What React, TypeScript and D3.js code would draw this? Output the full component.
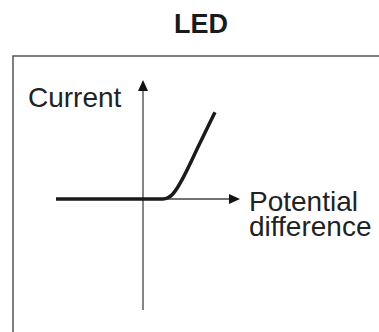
import React from "react";
import * as d3 from "d3";

const title = "LED";
const yLabel = "Current";
const xLabelLines = ["Potential", "difference"];
// I-V characteristic of an LED (arbitrary units)
const voltage = [-2.175, 0.5, 0.62, 0.74, 0.86, 0.98, 1.4, 1.8];
const current = [0, 0, 0.031, 0.12, 0.28, 0.49, 1.35, 2.17];
const xAxisExtent = [0, 2.425];
const yAxisExtent = [-2.775, 2.975];

export default function App() {
  const W = 379, H = 332;
  const x = d3.scaleLinear().domain([0, 1]).range([143, 183]);
  const y = d3.scaleLinear().domain([0, 1]).range([199, 159]);
  const pts: [number, number][] = voltage.map((v, i) => [v, current[i]]);
  const line = d3
    .line<[number, number]>()
    .x((d) => x(d[0]))
    .y((d) => y(d[1]))
    .curve(d3.curveMonotoneX);
  const ox = x(0), oy = y(0);
  const xEnd = x(xAxisExtent[1]);
  const yTop = y(yAxisExtent[1]);
  const yBot = y(yAxisExtent[0]);
  const font = "Liberation Sans, Arial, Helvetica, sans-serif";
  return (
    <svg width={W} height={H} style={{ position: "fixed", left: 0, top: 0 }} fontFamily={font}>
      <rect x={0} y={0} width={W} height={H} fill="#fff" />
      <text x={201} y={33} textAnchor="middle" fontWeight="bold" fontSize={27} fill="#1a1a1a">
        {title}
      </text>
      <rect x={13} y={56} width={500} height={500} fill="none" stroke="#555" strokeWidth={1.5} />
      {/* y axis */}
      <line x1={ox} x2={ox} y1={yBot} y2={yTop + 10} stroke="#444" strokeWidth={1.3} />
      <path d={`M${ox},${yTop} L${ox - 5},${yTop + 11} L${ox + 5},${yTop + 11} Z`} fill="#111" />
      {/* x axis */}
      <line x1={ox} x2={xEnd - 10} y1={oy} y2={oy} stroke="#444" strokeWidth={1.3} />
      <path d={`M${xEnd},${oy} L${xEnd - 11},${oy - 5} L${xEnd - 11},${oy + 5} Z`} fill="#111" />
      <path d={line(pts) || ""} fill="none" stroke="#1a1a1a" strokeWidth={3.5} strokeLinecap="butt" />
      <text x={28} y={107} fontSize={28} fill="#222">{yLabel}</text>
      {xLabelLines.map((t, i) => (
        <text key={t} x={249} y={211 + i * 25} fontSize={28} fill="#222">{t}</text>
      ))}
    </svg>
  );
}
